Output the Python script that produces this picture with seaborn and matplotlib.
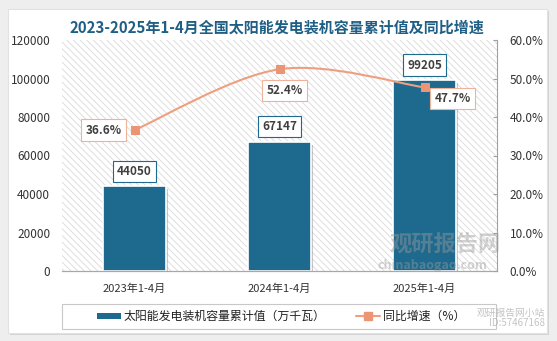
import numpy as np
import pandas as pd
import matplotlib
matplotlib.use("Agg")
import matplotlib.pyplot as plt
import matplotlib.patches as mpatches
import matplotlib.lines as mlines
import matplotlib.patheffects as pe
from matplotlib.path import Path
import seaborn as sns

categories = ["2023年1-4月", "2024年1-4月", "2025年1-4月"]
capacity = [44050, 67147, 99205]
growth = [36.6, 52.4, 47.7]
left_ticks = [0, 20000, 40000, 60000, 80000, 100000, 120000]
right_ticks = [0, 10, 20, 30, 40, 50, 60]
title = "2023-2025年1-4月全国太阳能发电装机容量累计值及同比增速"
bar_label = "太阳能发电装机容量累计值（万千瓦）"
line_label = "同比增速（%）"

sns.set_theme(style="white")
plt.rcParams['font.family'] = ['Noto Sans CJK SC', 'DejaVu Sans']
plt.rcParams['hatch.linewidth'] = 0.6

BAR = '#1e6a8e'
LINE = '#ee9f7f'
MARK = '#eb9574'
TXT = '#333333'

W, H = 557, 341
fig = plt.figure(figsize=(W / 100, H / 100), dpi=100)
fig.patch.set_facecolor('#eeeeee')

# card
card = mpatches.Rectangle((8 / W, 8 / H), 539 / W, 324 / H, transform=fig.transFigure,
                          facecolor='white', edgecolor='#e2e2e2', lw=0.8, zorder=-10,
                          path_effects=[pe.SimplePatchShadow(offset=(1.5, -1.5), shadow_rgbFace='#bbbbbb', alpha=0.5), pe.Normal()])
fig.patches.append(card)

ax = fig.add_axes([62 / W, 1 - 271 / H, 435 / W, 231 / H])
ax.set_facecolor('white')
bg = mpatches.Rectangle((0, 0), 1, 1, transform=ax.transAxes, facecolor='white',
                        edgecolor='#d9d9d9', lw=0, hatch='\\\\\\\\\\', zorder=0)
ax.add_patch(bg)

df = pd.DataFrame({"cat": categories, "cap": capacity, "g": growth})
sns.barplot(data=df, x="cat", y="cap", ax=ax, color=BAR, width=0.43, saturation=1,
            edgecolor='white', linewidth=1.2, zorder=2)
for p in ax.patches:
    if p is bg:
        continue
    p.set_path_effects([pe.SimplePatchShadow(offset=(2, -2), shadow_rgbFace='#888888', alpha=0.45), pe.Normal()])

ax.set_ylim(0, 120000)
ax.set_yticks(left_ticks)
ax.set_yticklabels([str(v) for v in left_ticks], fontsize=8.5, color=TXT)
ax.set_xlim(-0.5, 2.5)
ax.set_xlabel("")
ax.set_ylabel("")
ax.tick_params(axis='x', length=0, pad=9, labelsize=8, labelcolor=TXT)
ax.tick_params(axis='y', length=0, pad=8.5)
for s in ['left', 'right', 'top']:
    ax.spines[s].set_visible(False)
ax.spines['bottom'].set_color('#a8a8a8')
ax.spines['bottom'].set_linewidth(0.9)

for i, v in enumerate(capacity):
    ax.annotate(str(v), xy=(i, v), xytext=(0, 15), textcoords='offset pixels',
                ha='center', va='center', fontsize=8.5, fontweight='bold', color='#404040',
                bbox=dict(boxstyle='square,pad=0.35', fc='white', ec=BAR, lw=0.8), zorder=5)

ax2 = ax.twinx()
xs = np.arange(len(growth))
# smoothed connecting line (Catmull-Rom style Bezier built from the data points)
pts = np.column_stack([xs, growth]).astype(float)
ext = np.vstack([pts[:1], pts, pts[-1:]])
verts = [tuple(pts[0])]
codes = [Path.MOVETO]
for k in range(len(pts) - 1):
    p0, p1, p2, p3 = ext[k], ext[k + 1], ext[k + 2], ext[k + 3]
    c1 = p1 + (p2 - p0) / 6
    c2 = p2 - (p3 - p1) / 6
    verts += [tuple(c1), tuple(c2), tuple(p2)]
    codes += [Path.CURVE4] * 3
ax2.add_patch(mpatches.PathPatch(Path(verts, codes), facecolor='none', edgecolor=LINE,
                                 lw=1.5, zorder=3))
sns.lineplot(x=xs, y=growth, ax=ax2, color=LINE, lw=0, marker='s',
             markersize=6, markerfacecolor=MARK, markeredgecolor=MARK, zorder=4)
ax2.set_ylim(0, 60)
ax2.set_yticks(right_ticks)
ax2.set_yticklabels([f"{v:.1f}%" for v in right_ticks], fontsize=8.5, color=TXT)
ax2.tick_params(axis='y', direction='in', length=3, width=0.8, color='#a0a0a0', pad=9)
for s in ['left', 'top', 'bottom']:
    ax2.spines[s].set_visible(False)
ax2.spines['right'].set_color('#a0a0a0')
ax2.spines['right'].set_linewidth(0.8)
ax2.set_ylabel("")

offsets = [(-31, 0), (5, -21), (28, -11)]
for i, (v, off) in enumerate(zip(growth, offsets)):
    ax2.annotate(f"{v:.1f}%", xy=(i, v), xytext=off, textcoords='offset pixels',
                 ha='center', va='center', fontsize=8.5, fontweight='bold', color='#404040',
                 bbox=dict(boxstyle='square,pad=0.35', fc='white', ec='#f0b29a', lw=0.8), zorder=6)

fig.text(277 / W, 1 - 28 / H, title, ha='center', va='center', fontsize=10.8,
         fontweight='bold', color='#1f5f86')

# watermark
fig.text(445 / W, 1 - 245 / H, "观研报告网", ha='center', va='center', fontsize=16,
         fontweight='bold', color='#9a9a9a', alpha=0.45)
fig.text(432 / W, 1 - 265 / H, "chinabaogao.com", ha='center', va='center', fontsize=9,
         fontweight='bold', color='#9a9a9a', alpha=0.45)

# legend frame + legend
lframe = mpatches.Rectangle((62 / W, 1 - 329 / H), 434 / W, 25 / H, transform=fig.transFigure,
                            facecolor='white', edgecolor='#c8c8c8', lw=0.8, zorder=1)
fig.patches.append(lframe)
handles = [mpatches.Rectangle((0, 0), 1, 1, facecolor=BAR, edgecolor='none'),
           mlines.Line2D([], [], color=LINE, marker='s', markersize=6,
                         markerfacecolor=MARK, markeredgecolor=MARK, lw=1.5)]
leg = fig.legend(handles, [bar_label, line_label], loc='center', ncol=2,
                 bbox_to_anchor=(281 / W, 1 - 316.5 / H), frameon=False, fontsize=8.6,
                 handlelength=2.0, handleheight=0.45, handletextpad=0.2, columnspacing=2.6)
for t in leg.get_texts():
    t.set_color('#222222')

fig.text(545 / W, 1 - 318 / H, "观研报告网小站\nID:57467168", ha='right', va='center',
         fontsize=7, color='#aaaaaa', alpha=0.7, linespacing=1.1)

fig.savefig("out.png", dpi=100, facecolor=fig.get_facecolor())
